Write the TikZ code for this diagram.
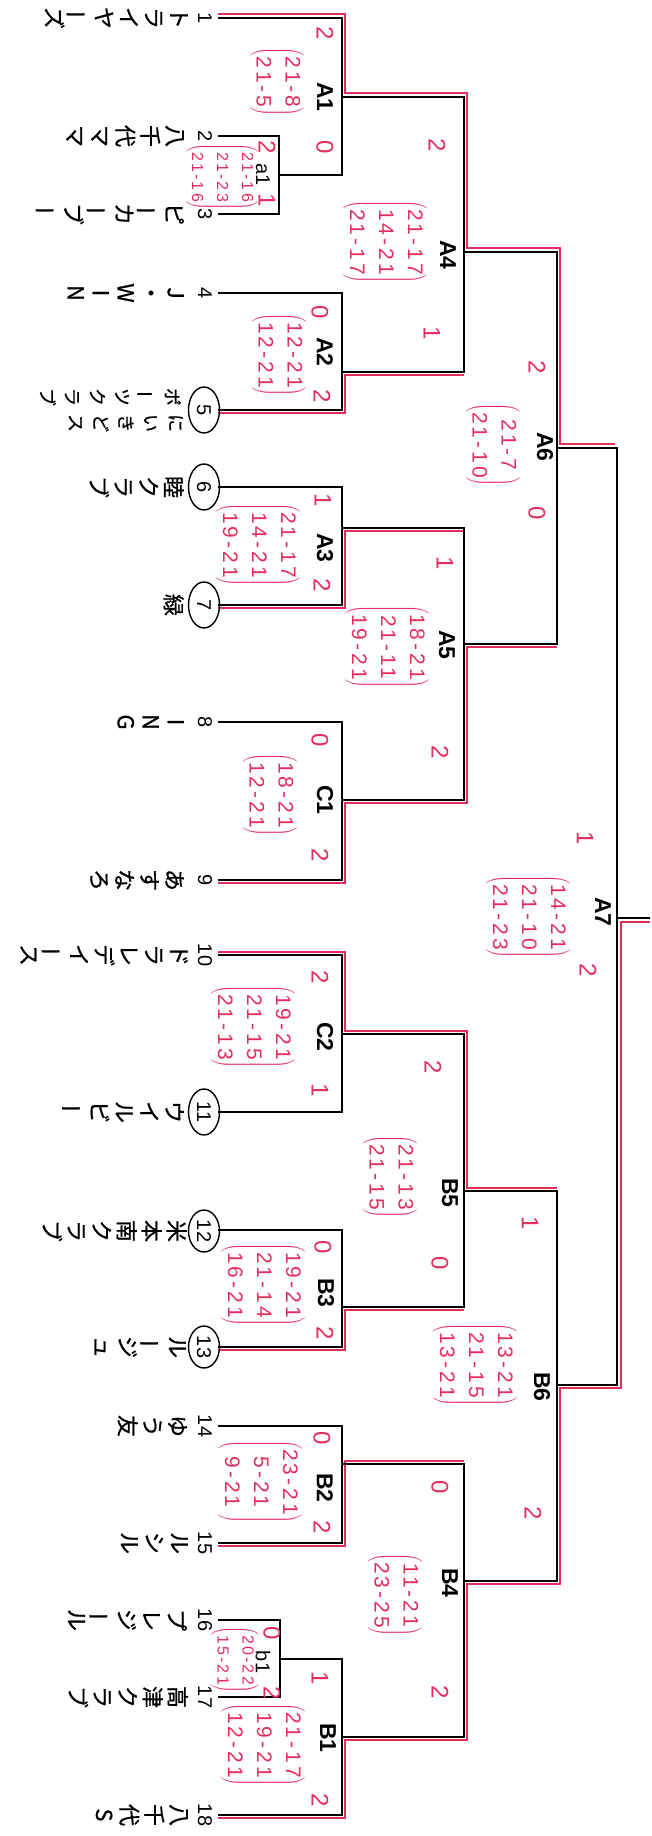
\documentclass[tikz,border=0pt]{standalone}
\usepackage{fontspec}
\usepackage{graphicx}
\setmainfont{Liberation Sans}
\newfontfamily\jpf{Noto Sans CJK JP}[FakeBold=0.8]
\newfontfamily\handf{Liberation Sans}[LetterSpace=14]
\usetikzlibrary{calc}
\definecolor{pen}{RGB}{228,45,95}
\newcommand\vb{\rotatebox[origin=c]{90}{ー}}
\newcommand\scoreblk[1]{$\left(\begin{tabular}{@{}c@{}}#1\end{tabular}\right)$}
\begin{document}
\begin{tikzpicture}[x=1pt,y=-1pt,
  br/.style={line width=1.7pt,line join=miter},
  win/.style={pen,line width=1.5pt},
  ring/.style={line width=1.4pt},
  lab/.style={rotate=-90,inner sep=0,font=\fontsize{23}{23}\selectfont\bfseries},
  sublab/.style={rotate=-90,inner sep=0,font=\fontsize{20}{20}\selectfont},
  num/.style={rotate=-90,inner sep=0,font=\fontsize{20}{20}\selectfont},
  tname/.style={rotate=-90,anchor=north,align=center,inner sep=0,font=\jpf\fontsize{22}{25}\selectfont},
  tnamesm/.style={rotate=-90,anchor=north,align=center,inner sep=0,font=\jpf\fontsize{18}{25}\selectfont},
  score/.style={rotate=-90,pen,inner sep=0,font=\handf\fontsize{21}{29}\selectfont},
  scoresm/.style={rotate=-90,pen,inner sep=0,font=\handf\fontsize{16}{25}\selectfont},
  pts/.style={rotate=-90,pen,inner sep=0,font=\fontsize{24}{24}\selectfont}
]
\fill[white] (0,0) rectangle (652,1836);
\useasboundingbox (0,0) rectangle (652,1836);

% team line starts
\coordinate (t1) at (218,18);
\coordinate (t2) at (218,136);
\coordinate (t3) at (218,214);
\coordinate (t4) at (218,293);
\coordinate (t5) at (218,410);
\coordinate (t6) at (218,487);
\coordinate (t7) at (218,605);
\coordinate (t8) at (218,722);
\coordinate (t9) at (218,880);
\coordinate (t10) at (218,955);
\coordinate (t11) at (218,1112);
\coordinate (t12) at (218,1230);
\coordinate (t13) at (218,1347);
\coordinate (t14) at (218,1426);
\coordinate (t15) at (218,1543);
\coordinate (t16) at (218,1620);
\coordinate (t17) at (218,1697);
\coordinate (t18) at (218,1815);

% match junctions (output points)
\coordinate (a1) at (279,175);
\coordinate (A1) at (342,97);
\coordinate (A2) at (342,372);
\coordinate (A3) at (342,528);
\coordinate (C1) at (342,800);
\coordinate (A4) at (464,252);
\coordinate (A5) at (464,644);
\coordinate (A6) at (557,448);
\coordinate (A7) at (617,918);
\coordinate (fin) at (650,918);
\coordinate (C2) at (342,1034);
\coordinate (B3) at (342,1307);
\coordinate (B2) at (342,1464);
\coordinate (b1) at (280,1659);
\coordinate (B1) at (342,1737);
\coordinate (B5) at (464,1191);
\coordinate (B4) at (464,1581);
\coordinate (B6) at (557,1385);

% winners' paths (red)
\draw[win] ($(t1)+(0,-4)$) -- ($(t1 -| A1)+(3,-4)$) -- ($(A1)+(3,-4)$) -- ($(A1 -| A4)+(3,-4)$) -- ($(A4)+(3,-4)$) -- ($(A4 -| A6)+(3,-4)$) -- ($(A6)+(3,-4)$) -- ($(A6 -| A7)+(-2,-4)$);
\draw[win] ($(t5)+(0,3)$) -- ($(t5 -| A2)+(3,3)$) -- ($(A2)+(3,3)$) -- ($(A2 -| A4)+(0,3)$);
\draw[win] ($(t7)+(0,3)$) -- ($(t7 -| A3)+(3,3)$) -- ($(A3)+(3,3)$) -- ($(A3 -| A5)+(0,3)$);
\draw[win] ($(t9)+(0,3)$) -- ($(t9 -| C1)+(3,3)$) -- ($(C1)+(3,3)$) -- ($(C1 -| A5)+(3,3)$) -- ($(A5)+(3,3)$) -- ($(A5 -| A6)+(0,3)$);
\draw[win] ($(t10)+(0,-3)$) -- ($(t10 -| C2)+(3,-3)$) -- ($(C2)+(3,-3)$) -- ($(C2 -| B5)+(3,-3)$) -- ($(B5)+(3,-3)$) -- ($(B5 -| B6)+(0,-3)$);
\draw[win] ($(t13)+(0,3)$) -- ($(t13 -| B3)+(3,3)$) -- ($(B3)+(3,3)$) -- ($(B3 -| B5)+(0,3)$);
\draw[win] ($(t15)+(0,3)$) -- ($(t15 -| B2)+(3,3)$) -- ($(B2)+(3,-3)$) -- ($(B2 -| B4)+(0,-3)$);
\draw[win] ($(t18)+(0,3)$) -- ($(t18 -| B1)+(3,3)$) -- ($(B1)+(3,3)$) -- ($(B1 -| B4)+(3,3)$) -- ($(B4)+(3,3)$) -- ($(B4 -| B6)+(3,3)$) -- ($(B6)+(3,3)$) -- ($(B6 -| A7)+(4,3)$) -- ($(A7)+(4,4)$) -- ($(fin)+(0,4)$);

% bracket (black)
\draw[br] (t2) -- (t2 -| a1) -- (t3 -| a1) -- (t3);
\draw[br] (t1) -- (t1 -| A1) -- (a1 -| A1) -- (a1);
\draw[br] (t4) -- (t4 -| A2) -- (t5 -| A2) -- (t5);
\draw[br] (A1) -- (A1 -| A4) -- (A2 -| A4) -- (A2);
\draw[br] (t6) -- (t6 -| A3) -- (t7 -| A3) -- (t7);
\draw[br] (t8) -- (t8 -| C1) -- (t9 -| C1) -- (t9);
\draw[br] (A3) -- (A3 -| A5) -- (C1 -| A5) -- (C1);
\draw[br] (A4) -- (A4 -| A6) -- (A5 -| A6) -- (A5);
\draw[br] (A6) -- (A6 -| A7) -- (B6 -| A7) -- (B6);
\draw[br] (A7) -- (fin);
\draw[br] (t10) -- (t10 -| C2) -- (t11 -| C2) -- (t11);
\draw[br] (t12) -- (t12 -| B3) -- (t13 -| B3) -- (t13);
\draw[br] (C2) -- (C2 -| B5) -- (B3 -| B5) -- (B3);
\draw[br] (t14) -- (t14 -| B2) -- (t15 -| B2) -- (t15);
\draw[br] (t16) -- (t16 -| b1) -- (t17 -| b1) -- (t17);
\draw[br] (b1) -- (b1 -| B1) -- (t18 -| B1) -- (t18);
\draw[br] (B2) -- (B2 -| B4) -- (B1 -| B4) -- (B1);
\draw[br] (B5) -- (B5 -| B6) -- (B4 -| B6) -- (B4);

% match labels
\node[lab] (LA1) at (325,97) {A1};
\node[sublab] (La1) at (263,175) {a1};
\node[lab] (LA2) at (325,352) {A2};
\node[lab] (LA3) at (325,548) {A3};
\node[lab] (LC1) at (325,800) {C1};
\node[lab] (LA4) at (448,255) {A4};
\node[lab] (LA5) at (447,645) {A5};
\node[lab] (LA6) at (545,447) {A6};
\node[lab] (LA7) at (603,912) {A7};
\node[lab] (LC2) at (325,1037) {C2};
\node[lab] (LB3) at (326,1293) {B3};
\node[lab] (LB5) at (450,1193) {B5};
\node[lab] (LB6) at (542,1387) {B6};
\node[lab] (LB2) at (325,1488) {B2};
\node[lab] (LB4) at (450,1583) {B4};
\node[lab] (LB1) at (328,1738) {B1};
\node[sublab] (Lb1) at (263,1662) {b1};

% team numbers
\node[num] (n1) at (205,18) {1};
\node[num] (n2) at (205,136) {2};
\node[num] (n3) at (205,214) {3};
\node[num] (n4) at (205,293) {4};
\node[num] (n5) at (204,410) {5};
\node[num] (n6) at (204,487) {6};
\node[num] (n7) at (204,605) {7};
\node[num] (n8) at (205,722) {8};
\node[num] (n9) at (205,880) {9};
\node[num] (n10) at (205,955) {10};
\node[num] (n11) at (204,1112) {11};
\node[num] (n12) at (204,1231) {12};
\node[num] (n13) at (204,1347) {13};
\node[num] (n14) at (205,1426) {14};
\node[num] (n15) at (205,1543) {15};
\node[num] (n16) at (205,1620) {16};
\node[num] (n17) at (205,1697) {17};
\node[num] (n18) at (205,1815) {18};
\draw[ring] (n5.center) ellipse [x radius=15.5, y radius=23];
\draw[ring] (n6.center) ellipse [x radius=15.5, y radius=23];
\draw[ring] (n7.center) ellipse [x radius=15.5, y radius=23];
\draw[ring] (n11.center) ellipse [x radius=15.5, y radius=23];
\draw[ring] (n12.center) ellipse [x radius=15.5, y radius=21];
\draw[ring] (n13.center) ellipse [x radius=15.5, y radius=21];

% team names
\node[tname] (m1) at (188,18) {ト\\ラ\\イ\\ヤ\\\vb\\ズ};
\node[tname] (m2) at (184,136) {八\\千\\代\\マ\\マ};
\node[tname] (m3) at (184,214) {ピ\\\vb\\カ\\\vb\\ブ\\\vb};
\node[tname] (m4) at (184,293) {J\\・\\W\\I\\N};
\node[tnamesm] (m5a) at (181,397) {ポ\\\vb\\ツ\\ク\\ラ\\ブ};
\node[tnamesm] (m5b) at (183,423) {に\\い\\き\\ど\\ス};
\node[tname] (m6) at (184,487) {睦\\ク\\ラ\\ブ};
\node[tname] (m7) at (184,605) {緑};
\node[tname] (m8) at (184,722) {I\\N\\G};
\node[tname] (m9) at (184,880) {あ\\す\\な\\ろ};
\node[tname] (m10) at (188,955) {ド\\ラ\\レ\\デ\\イ\\\vb\\ス};
\node[tname] (m11) at (184,1112) {ウ\\イ\\ル\\ビ\\\vb};
\node[tname] (m12) at (187,1231) {米\\本\\南\\ク\\ラ\\ブ};
\node[tname] (m13) at (186,1347) {ル\\\vb\\ジ\\ュ};
\node[tname] (m14) at (187,1426) {ゆ\\う\\友};
\node[tname] (m15) at (188,1543) {ル\\シ\\ル};
\node[tname] (m16) at (187,1620) {プ\\レ\\ジ\\\vb\\ル};
\node[tname] (m17) at (188,1697) {高\\津\\ク\\ラ\\ブ};
\node[tname] (m18) at (188,1815) {八\\千\\代\\S};

% handwritten scores
\node[score] (sA1) at (277,82) {\scoreblk{21-8\\21-5}};
\node[scoresm] (sa1) at (222,177) {\scoreblk{21-16\\21-23\\21-16}};
\node[score] (sA2) at (279,355) {\scoreblk{12-21\\12-21}};
\node[score] (sA3) at (258,545) {\scoreblk{21-17\\14-21\\19-21}};
\node[score] (sC1) at (270,795) {\scoreblk{18-21\\12-21}};
\node[score] (sA4) at (385,242) {\scoreblk{21-17\\14-21\\21-17}};
\node[score] (sA5) at (387,647) {\scoreblk{18-21\\21-11\\19-21}};
\node[score] (sA6) at (493,445) {\scoreblk{21-7\\21-10}};
\node[score] (sA7) at (528,917) {\scoreblk{14-21\\21-10\\21-23}};
\node[score] (sC2) at (253,1027) {\scoreblk{19-21\\21-15\\21-13}};
\node[score] (sB5) at (390,1177) {\scoreblk{21-13\\21-15}};
\node[score] (sB3) at (263,1285) {\scoreblk{19-21\\21-14\\16-21}};
\node[score] (sB6) at (475,1365) {\scoreblk{13-21\\21-15\\13-21}};
\node[score] (sB2) at (260,1482) {\scoreblk{23-21\\5-21\\9-21}};
\node[score] (sB4) at (395,1595) {\scoreblk{11-21\\23-25}};
\node[scoresm] (sb1) at (235,1660) {\scoreblk{20-22\\15-21}};
\node[score] (sB1) at (263,1745) {\scoreblk{21-17\\19-21\\12-21}};

% games won
\node[pts] (pA1t) at (325,33) {2};
\node[pts] (pA1b) at (325,147) {0};
\node[pts] (pa1t) at (267,147) {2};
\node[pts] (pa1b) at (267,200) {1};
\node[pts] (pA2t) at (320,312) {0};
\node[pts] (pA2b) at (322,396) {2};
\node[pts] (pA3t) at (323,500) {1};
\node[pts] (pA3b) at (322,585) {2};
\node[pts] (pC1t) at (320,740) {0};
\node[pts] (pC1b) at (320,855) {2};
\node[pts] (pA4t) at (437,145) {2};
\node[pts] (pA4b) at (432,333) {1};
\node[pts] (pA5t) at (445,563) {1};
\node[pts] (pA5b) at (440,752) {2};
\node[pts] (pA6t) at (537,367) {2};
\node[pts] (pA6b) at (537,513) {0};
\node[pts] (pA7t) at (585,838) {1};
\node[pts] (pA7b) at (588,970) {2};
\node[pts] (pC2t) at (320,977) {2};
\node[pts] (pC2b) at (320,1090) {1};
\node[pts] (pB5t) at (433,1067) {2};
\node[pts] (pB5b) at (440,1263) {0};
\node[pts] (pB3t) at (323,1247) {0};
\node[pts] (pB3b) at (325,1333) {2};
\node[pts] (pB6t) at (530,1223) {1};
\node[pts] (pB6b) at (533,1513) {2};
\node[pts] (pB2t) at (322,1438) {0};
\node[pts] (pB2b) at (322,1527) {2};
\node[pts] (pB4t) at (440,1487) {0};
\node[pts] (pB4b) at (440,1692) {2};
\node[pts] (pb1t) at (272,1633) {0};
\node[pts] (pb1b) at (272,1693) {2};
\node[pts] (pB1t) at (320,1678) {1};
\node[pts] (pB1b) at (320,1800) {2};
\end{tikzpicture}
\end{document}
